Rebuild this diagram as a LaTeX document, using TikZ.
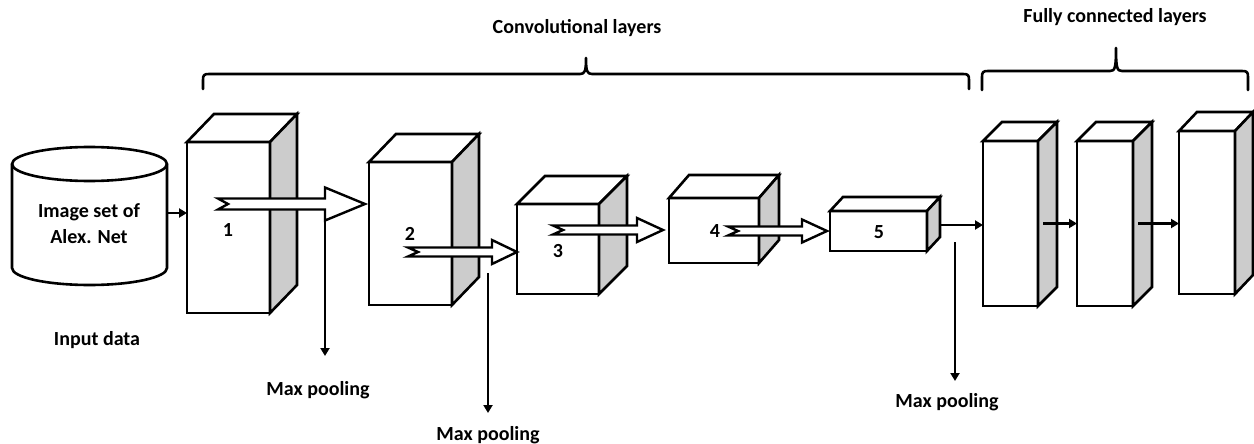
\documentclass[tikz,border=0pt]{standalone}
\usepackage{fontspec}
\setmainfont{Carlito}
\usetikzlibrary{arrows.meta,calc}

\definecolor{sidegray}{HTML}{CCCCCC}

\tikzset{
  outline/.style={line width=2.6pt, line join=miter},
  face/.style={outline, draw=black, fill=white, inner sep=0pt, outer sep=0pt, rectangle},
  lbl/.style={font=\bfseries\fontsize{20}{24}\selectfont, inner sep=0pt},
  thinarr/.style={line width=2.4pt, -{Triangle[length=8pt,width=9pt]}},
  hollow/.style={line width=2.4pt, draw=black, fill=white, line join=miter},
  bracepath/.style={line width=2.6pt, line cap=round, line join=round},
}

% cuboid: name, front-left x, front-top y, width, height, depth dx, depth dy (up)
\newcommand\cuboid[7]{%
  \node[face, anchor=north west, minimum width=#4pt, minimum height=#5pt] (#1) at (#2,#3) {};
  \draw[outline, fill=white] (#1.north west) -- ++(#6,-#7) -- ($(#1.north east)+(#6,-#7)$) -- (#1.north east) -- cycle;
  \draw[outline, fill=sidegray] (#1.north east) -- ++(#6,-#7) -- ($(#1.south east)+(#6,-#7)$) -- (#1.south east) -- cycle;
}

% notched block arrow: tail x, centre y, head base x, tip x, shaft half height, head half height
\newcommand\blockarrow[6]{%
  \draw[hollow] (#1,#2-#5) -- (#3,#2-#5) -- (#3,#2-#6) -- (#4,#2) -- (#3,#2+#6)
    -- (#3,#2+#5) -- (#1,#2+#5) -- (#1+10,#2) -- cycle;
}

% brace opening downwards: left x, right x, tip x, bar y, tip y, end y
\newcommand\downbrace[6]{%
  \draw[bracepath] (#1,#6) -- (#1,#4+6) .. controls (#1,#4+1) and (#1+1,#4) .. (#1+6,#4)
    -- (#3-6,#4) .. controls (#3-1,#4) and (#3,#4-3) .. (#3,#5)
    .. controls (#3,#4-3) and (#3+1,#4) .. (#3+6,#4)
    -- (#2-6,#4) .. controls (#2-1,#4) and (#2,#4+1) .. (#2,#4+6) -- (#2,#6);
}

\begin{document}
\begin{tikzpicture}[x=1pt,y=-1pt]
\useasboundingbox (0,0) rectangle (1254,444);

% input data store
\node[inner sep=0pt, minimum width=155pt, minimum height=138pt, anchor=north west] (cyl) at (12,147) {};
\draw[outline, fill=white] (12,164) -- (12,268) arc[start angle=180, end angle=360, x radius=77.5pt, y radius=17pt]
  -- (167,164) arc[start angle=0, end angle=180, x radius=77.5pt, y radius=17pt] -- cycle;
\draw[outline] (12,164) arc[start angle=180, end angle=360, x radius=77.5pt, y radius=17pt];
\node[lbl, align=center] (cyltxt) at (89,224) {Image set of\\[2pt]Alex. Net};
\node[lbl] (input) at (97,340) {Input data};

% convolutional blocks
\cuboid{b1}{187}{142}{83}{171}{27}{28}
\cuboid{b2}{369}{162}{83}{143}{27}{28}
\cuboid{b3}{517}{204}{82}{90}{28}{28}
\cuboid{b4}{669}{198}{90}{65}{20}{23}
\cuboid{b5}{830}{211}{97}{40}{13}{14}

% fully connected blocks
\cuboid{f1}{983}{141}{55}{165}{19}{19}
\cuboid{f2}{1077}{141}{56}{165}{19}{19}
\cuboid{f3}{1179}{131}{56}{163}{18}{19}

% data flow between convolutional blocks
\blockarrow{218}{204}{325}{365}{5.5}{16.5}
\blockarrow{408}{252}{492}{517}{4.5}{12}
\blockarrow{553}{230}{637}{663}{4.5}{12}
\blockarrow{728}{231}{802}{827}{4.5}{11.5}

% block numbers
\node[lbl] (n1) at (228,230) {1};
\node[lbl] (n2) at (410,234) {2};
\node[lbl] (n3) at (558,251) {3};
\node[lbl] (n4) at (715,231) {4};
\node[lbl] (n5) at (879,232) {5};

% plain arrows
\draw[thinarr] (cyl.east |- 0,213) -- (b1.west |- 0,213);
\coordinate (b5out) at ($(b5.east)+(13,-6)$);
\draw[thinarr] (b5out) -- (f1.west |- b5out);
\coordinate (f1out) at ($(f1.east)+(5,0)$);
\draw[thinarr] (f1out) -- (f2.west);
\coordinate (f2out) at ($(f2.east)+(5,0)$);
\draw[thinarr] (f2out) -- (f3.west |- f2out);

% max pooling outputs
\coordinate (mp1a) at (325,221);
\coordinate (mp1b) at (325,356);
\draw[thinarr] (mp1a) -- (mp1b);
\node[lbl] (mp1) at (318,390) {Max pooling};

\coordinate (mp2a) at (488,273);
\coordinate (mp2b) at (488,413);
\draw[thinarr] (mp2a) -- (mp2b);
\node[lbl] (mp2) at (488,435) {Max pooling};

\coordinate (mp3a) at (955,242);
\coordinate (mp3b) at (955,381);
\draw[thinarr] (mp3a) -- (mp3b);
\node[lbl] (mp3) at (947,402) {Max pooling};

% group braces
\downbrace{203}{969}{586}{74}{58}{89}
\node[lbl] (convt) at (577,28) {Convolutional layers};

\downbrace{982}{1248}{1116}{71}{48}{90}
\node[lbl] (fct) at (1115,17) {Fully connected layers};
\end{tikzpicture}
\end{document}
